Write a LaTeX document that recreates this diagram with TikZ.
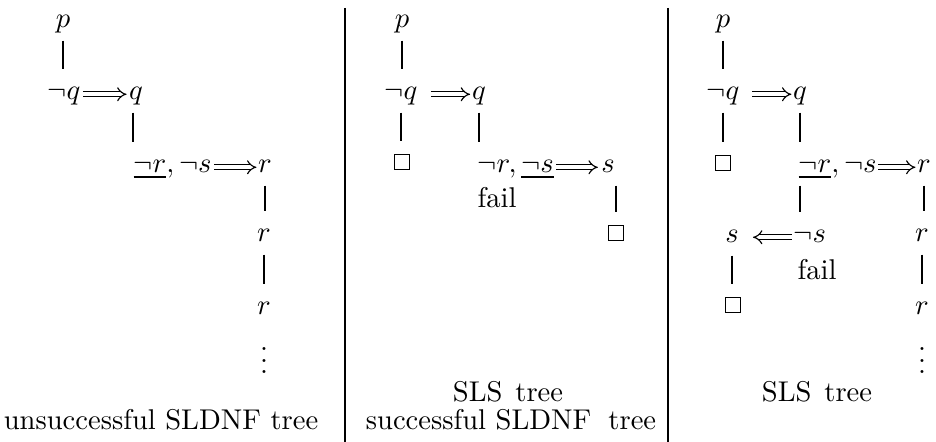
\documentclass[tikz,border=0pt]{standalone}
\usetikzlibrary{arrows.meta}
\begin{document}
\begin{tikzpicture}[x=0.35pt,y=-0.35pt,
  m/.style={inner sep=0pt, text height=6pt, text depth=2pt, anchor=base},
  mw/.style={m, anchor=base west},
  sq/.style={draw, line width=0.45pt, inner sep=0pt, minimum size=5.2pt},
  edge/.style={line width=0.38pt, shorten <=2.2pt, shorten >=4.5pt},
  dbl/.style={double, double distance=1.3pt, line width=0.4pt, -{Implies}},
  captxt/.style={inner sep=0pt, anchor=base},
  divider/.style={line width=0.38pt}]
\useasboundingbox (0,0) rectangle (936,442);

% dividers
\coordinate (dv1t) at (345,8); \coordinate (dv1b) at (345,442);
\coordinate (dv2t) at (668,8); \coordinate (dv2b) at (668,442);
\draw[divider] (dv1t) -- (dv1b);
\draw[divider] (dv2t) -- (dv2b);

% ---------- panel 1 ----------
\node[m] (p1) at (63,28) {$p$};
\node[m] (nq1) at (64,100) {$\neg q$};
\node[m] (q1) at (136,100) {$q$};
\node[mw] (rs1) at (133,173) {$\underline{\neg r}, \neg s$};
\node[m] (r1a) at (265,173) {$r$};
\node[m] (r1b) at (264,242) {$r$};
\node[m] (r1c) at (264,315) {$r$};
\node[inner sep=0pt] (d1) at (264,352) {$\vdots$};
\draw[edge] (p1.south) -- (p1.south |- nq1.north);
\draw[edge] (rs1.west |- q1.south) -- (rs1.north west);
\draw[edge] (r1a.south) -- (r1a.south |- r1b.north);
\draw[edge] (r1b.south) -- (r1b.south |- r1c.north);
\draw[dbl, shorten <=0.7pt, shorten >=0.7pt] (nq1.east) -- (q1.west);
\draw[dbl, shorten <=0.7pt, shorten >=0.4pt] (rs1.east) -- (r1a.west);
\node[captxt] (c1) at (161,430) {unsuccessful SLDNF tree};

% ---------- panel 2 ----------
\node[m] (p2) at (402,28) {$p$};
\node[m] (nq2) at (401,100) {$\neg q$};
\node[m] (q2) at (479,100) {$q$};
\node[sq] (b2a) at (402,162) {};
\node[mw] (rs2) at (477,173) {$\neg r, \underline{\neg s}$};
\node[m] (s2) at (608,173) {$s$};
\node[mw] (f2) at (477,208) {fail};
\node[sq] (b2b) at (616,233) {};
\draw[edge] (p2.south) -- (p2.south |- nq2.north);
\draw[edge] (nq2.south) -- (nq2.south |- b2a.north);
\draw[edge] (q2.south) -- (q2.south |- rs2.north);
\draw[edge] (b2b |- s2.south) -- (b2b.north);
\draw[dbl, shorten <=4.5pt, shorten >=0.5pt] (nq2.east) -- (q2.west);
\draw[dbl, shorten <=0.7pt, shorten >=1pt] (rs2.east) -- (s2.west);
\node[captxt] (c2a) at (508,402) {SLS\hskip 4.5pt tree};
\node[captxt] (c2b) at (511,430) {successful SLDNF\hskip 6pt tree};

% ---------- panel 3 ----------
\node[m] (p3) at (723,28) {$p$};
\node[m] (nq3) at (723,100) {$\neg q$};
\node[m] (q3) at (800,100) {$q$};
\node[sq] (b3a) at (723,163) {};
\node[mw] (rs3) at (798,173) {$\underline{\neg r}, \neg s$};
\node[m] (r3a) at (924,173) {$r$};
\node[m] (r3b) at (922,242) {$r$};
\node[m] (r3c) at (922,315) {$r$};
\node[inner sep=0pt] (d3) at (922,352) {$\vdots$};
\node[m] (s3) at (732,243) {$s$};
\node[mw] (ns3) at (793,243) {$\neg s$};
\node[mw] (f3) at (797,280) {fail};
\node[sq] (b3b) at (733,305) {};
\draw[edge] (p3.south) -- (p3.south |- nq3.north);
\draw[edge] (nq3.south) -- (nq3.south |- b3a.north);
\draw[edge] (q3.south) -- (q3.south |- rs3.north);
\draw[edge] (q3.south |- rs3.south) -- (q3.south |- ns3.north);
\draw[edge] (s3.south) -- (s3.south |- b3b.north);
\draw[edge] (r3a.south) -- (r3a.south |- r3b.north);
\draw[edge] (r3b.south) -- (r3b.south |- r3c.north);
\draw[dbl, shorten <=4.2pt, shorten >=0.4pt] (nq3.east) -- (q3.west);
\draw[dbl, shorten <=0.4pt, shorten >=0.4pt] (rs3.east) -- (r3a.west);
\draw[dbl, shorten <=0.4pt, shorten >=4.8pt] (ns3.west) -- (s3.east);
\node[captxt] (c3) at (817,402) {SLS\hskip 4.5pt tree};
\end{tikzpicture}
\end{document}
